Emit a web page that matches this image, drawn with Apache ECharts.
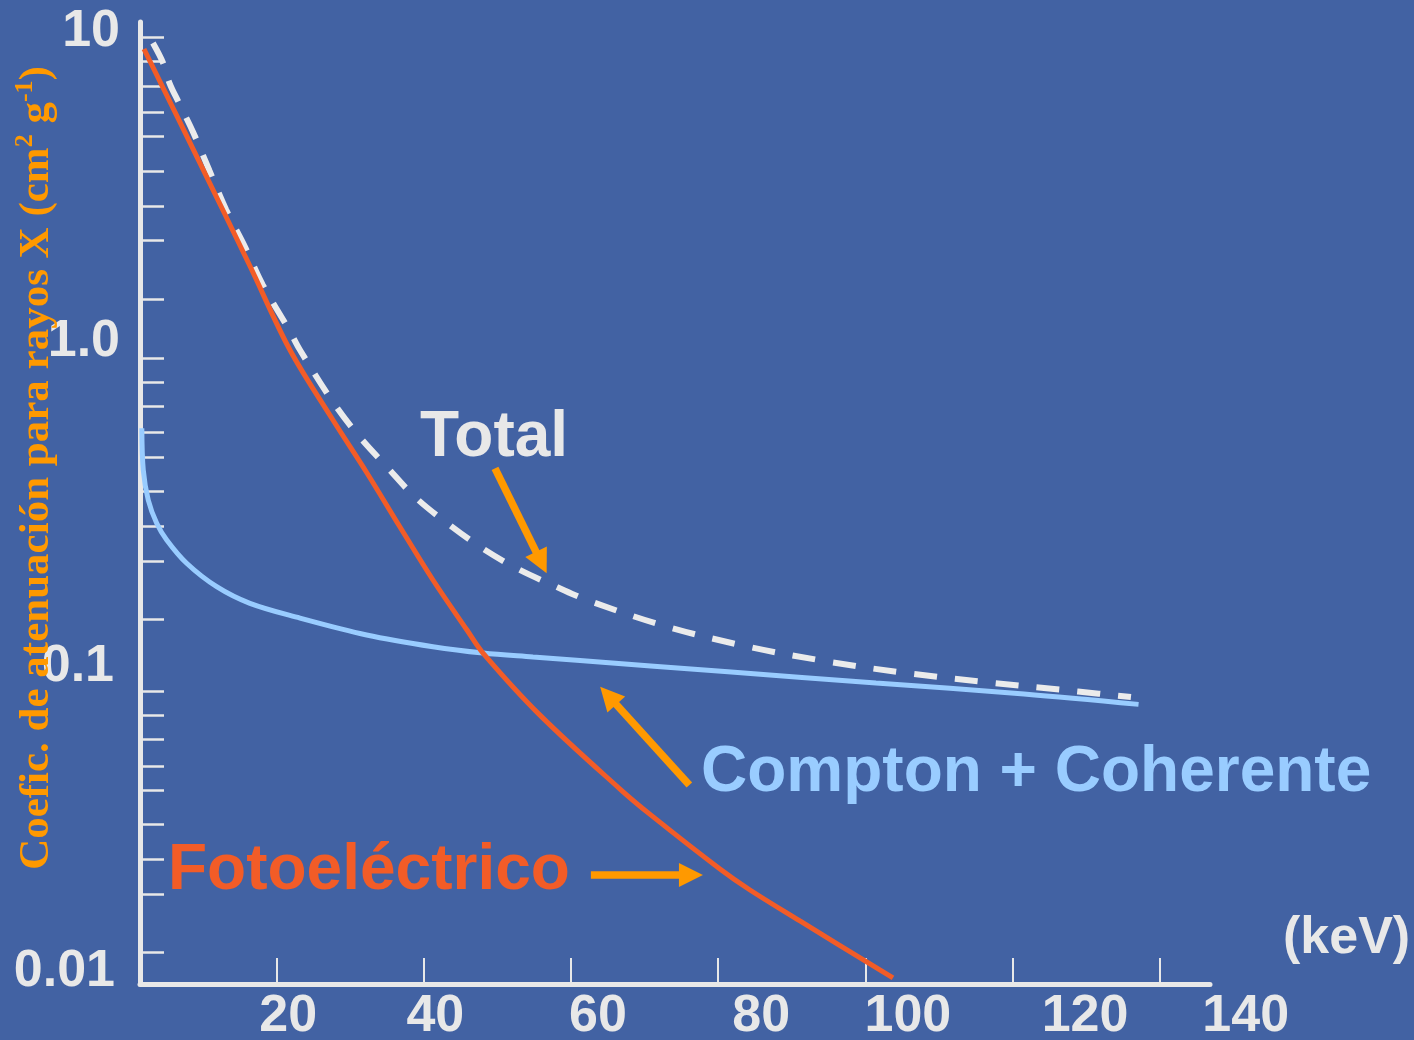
<!DOCTYPE html>
<html>
<head>
<meta charset="utf-8">
<script src="https://cdn.jsdelivr.net/npm/echarts@6/dist/echarts.min.js"></script>
<style>
html,body{margin:0;padding:0;background:#4262a3;}
#c{width:1414px;height:1040px;}
</style>
</head>
<body>
<div id="c"></div>
<script>
// ---- data (energy in keV, attenuation coefficient in cm2/g) ----
const fotoX = [1.97, 9.58, 16.37, 21.81, 27.65, 32.27, 36.76, 41.24, 45.86, 48.04, 55.78, 66.66, 70.87, 80.24, 84.32, 91.11, 103.75];
const fotoY = [9.21, 4.006, 1.889, 1.023, 0.6138, 0.4169, 0.2811, 0.1909, 0.1325, 0.1120, 0.0712, 0.0415, 0.0343, 0.02315, 0.01986, 0.01584, 0.01045];

const comptonX = [1.68, 1.875, 2.55, 3.70, 5.06, 7.77, 11.85, 16.37, 23.17, 32.23, 41.24, 48.04, 54.83, 61.22, 81.33, 101.44, 121.56, 137.12];
const comptonY = [0.5777, 0.4261, 0.3423, 0.2888, 0.2557, 0.2157, 0.1818, 0.1610, 0.1446, 0.1278, 0.1173, 0.1120, 0.1088, 0.1060, 0.0977, 0.0900, 0.0831, 0.0770];

const totalX = [3.19, 4.59, 5.44, 6.73, 8.62, 10.89, 13.15, 15.69, 18.13, 21.70, 23.17, 27.65, 31.05, 34.99, 38.80, 43.14, 47.90, 52.79, 58.09, 62.17, 72.49, 83.64, 94.85, 106.13, 117.48, 128.89, 136.09];
const totalY = [9.62, 8.295, 7.183, 6.208, 5.035, 3.779, 2.843, 2.175, 1.644, 1.184, 1.023, 0.700, 0.5503, 0.4355, 0.3499, 0.2894, 0.2411, 0.2068, 0.1814, 0.1650, 0.1370, 0.1179, 0.1053, 0.0964, 0.0900, 0.0846, 0.0812];

// ---- axes: ticks and labels ----
const xTickValues = [20, 40, 60, 80, 100, 120, 140];
const xTickLabels = ['20', '40', '60', '80', '100', '120', '140'];
const yTickValues = [10, 8.393, 7.028, 5.783, 4.855, 3.765, 2.927, 2.272, 1.481,
                     0.965, 0.810, 0.680, 0.5596, 0.4694, 0.3647, 0.2831, 0.2197, 0.1433,
                     0.0846, 0.0711, 0.0597, 0.0491, 0.0412, 0.0320, 0.02485, 0.01929, 0.01257];
const yLabelValues = [10, 1, 0.1, 0.01];
const yLabelTexts = ['10', '1.0', '0.1', '0.01'];

// ---- annotation arrows (data coordinates: [keV, coefficient]) ----
const arrowTotalFrom = [49.67, 0.4314];
const arrowTotalTo = [56.69, 0.2004];
const arrowComptonFrom = [76.08, 0.04273];
const arrowComptonTo = [63.96, 0.08759];
const arrowFotoFrom = [62.70, 0.02215];
const arrowFotoTo = [77.93, 0.02215];

// ---- styles ----
const TXT = '#E8E8E8', ORANGE = '#FF9900', RED = '#F25C27', BLUE = '#99CCFF', WHITE = '#EBEBEB';
const SANS = '"Liberation Sans", Arial, Helvetica, sans-serif';
const SERIF = '"Liberation Serif", "Times New Roman", serif';
const xLabelShift = [23, 23, 54, 86, 85, 145, 172];       // left padding per x label
const yLabelPad = [[0, 0, 13, 0], [0, 0, 22, 0], [0, 6, 4, 0], [0, 5, 24, 0]];

const zip = (xs, ys) => xs.map((x, i) => [x, ys[i]]);

const xRich = {};
xLabelShift.forEach((s, i) => {
  xRich['p' + i] = {padding: [0, 0, 0, s], fontSize: 52, fontWeight: 'bold', fontFamily: SANS, color: TXT};
});
const yRich = {};
yLabelPad.forEach((p, i) => {
  yRich['q' + i] = {padding: p, fontSize: 52, fontWeight: 'bold', fontFamily: SANS, color: TXT};
});

const chart = echarts.init(document.getElementById('c'), null, {renderer: 'canvas'});

const option = {
  backgroundColor: '#4262a3',
  animation: false,
  grid: {left: 140, right: 204, top: 22, bottom: 56, containLabel: false, outerBoundsMode: 'none'},
  xAxis: {
    type: 'value', min: 1.43, max: 146.83,
    splitLine: {show: false},
    axisLine: {show: true, onZero: false, lineStyle: {color: TXT, width: 5}},
    axisTick: {show: true, inside: true, length: 26, lineStyle: {color: TXT, width: 2}, customValues: xTickValues},
    axisLabel: {
      show: true, customValues: xTickValues, margin: 33, verticalAlign: 'middle',
      formatter: function (v) {
        let i = xTickValues.indexOf(Math.round(v));
        if (i < 0) return '';
        return '{p' + i + '|' + xTickLabels[i] + '}';
      },
      rich: xRich
    }
  },
  yAxis: {
    type: 'log', logBase: 10, min: 0.01, max: 11.216,
    splitLine: {show: false},
    minorTick: {show: false},
    axisLine: {show: true, onZero: false, lineStyle: {color: TXT, width: 5}},
    axisTick: {show: true, inside: true, length: 24, lineStyle: {color: TXT, width: 2.5}, customValues: yTickValues},
    axisLabel: {
      show: true, customValues: yLabelValues, margin: 20,
      formatter: function (v) {
        let best = -1, bd = 1e9;
        yLabelValues.forEach((lv, i) => {
          const d = Math.abs(Math.log10(v) - Math.log10(lv));
          if (d < bd) { bd = d; best = i; }
        });
        if (best < 0 || bd > 1e-3) return '';
        return '{q' + best + '|' + yLabelTexts[best] + '}';
      },
      rich: yRich
    }
  },
  series: [
    {
      name: 'Compton + Coherente', type: 'line', data: zip(comptonX, comptonY),
      showSymbol: false, smooth: 0.35, silent: true, z: 2,
      lineStyle: {color: BLUE, width: 5}
    },
    {
      name: 'Total', type: 'line', data: zip(totalX, totalY),
      showSymbol: false, smooth: 0.35, silent: true, z: 3,
      lineStyle: {color: WHITE, width: 6, type: [23, 18], cap: 'butt'}
    },
    {
      name: 'Fotoeléctrico', type: 'line', data: zip(fotoX, fotoY),
      showSymbol: false, smooth: 0.35, silent: true, z: 4,
      lineStyle: {color: RED, width: 5}
    }
  ]
};
chart.setOption(option);

// ---- annotations ----
function arrow(from, to, id) {
  const p0 = chart.convertToPixel({gridIndex: 0}, from);
  const p1 = chart.convertToPixel({gridIndex: 0}, to);
  const dx = p1[0] - p0[0], dy = p1[1] - p0[1];
  const L = Math.hypot(dx, dy), ux = dx / L, uy = dy / L;
  const HL = 24, HW = 12;
  const bx = p1[0] - ux * HL, by = p1[1] - uy * HL;
  return [
    {type: 'line', id: id + 'l', z: 20, silent: true,
     shape: {x1: p0[0], y1: p0[1], x2: bx + ux * 2, y2: by + uy * 2},
     style: {stroke: ORANGE, lineWidth: 7.5}},
    {type: 'polygon', id: id + 'h', z: 20, silent: true,
     shape: {points: [[p1[0], p1[1]], [bx - uy * HW, by + ux * HW], [bx + uy * HW, by - ux * HW]]},
     style: {fill: ORANGE}}
  ];
}

const graphics = [
  {type: 'text', id: 'ytitle', x: 37, y: 468, rotation: Math.PI / 2, z: 10, silent: true,
   style: {
     text: '{a|Coefic. de atenuación para rayos X (cm}{s|2}{a| g}{s|-1}{a|)}',
     align: 'center', verticalAlign: 'middle',
     rich: {
       a: {fontSize: 43, fontWeight: 'bold', fontFamily: SERIF, fill: ORANGE, color: ORANGE, lineHeight: 50},
       s: {fontSize: 26, fontWeight: 'bold', fontFamily: SERIF, fill: ORANGE, color: ORANGE, verticalAlign: 'top', lineHeight: 26}
     }
   }},
  {type: 'text', id: 'tTotal', x: 420, y: 438, z: 10, silent: true,
   style: {text: 'Total', fill: TXT, fontSize: 64, fontWeight: 'bold', fontFamily: SANS, align: 'left', verticalAlign: 'middle'}},
  {type: 'text', id: 'tCompton', x: 701, y: 773, z: 10, silent: true,
   style: {text: 'Compton + Coherente', fill: BLUE, fontSize: 64, fontWeight: 'bold', fontFamily: SANS, align: 'left', verticalAlign: 'middle'}},
  {type: 'text', id: 'tFoto', x: 168, y: 871, z: 10, silent: true,
   style: {text: 'Fotoeléctrico', fill: RED, fontSize: 64, fontWeight: 'bold', fontFamily: SANS, align: 'left', verticalAlign: 'middle'}},
  {type: 'text', id: 'tkev', x: 1283, y: 939, z: 10, silent: true,
   style: {text: '(keV)', fill: TXT, fontSize: 52, fontWeight: 'bold', fontFamily: SANS, align: 'left', verticalAlign: 'middle'}}
].concat(
  arrow(arrowTotalFrom, arrowTotalTo, 'aT'),
  arrow(arrowComptonFrom, arrowComptonTo, 'aC'),
  arrow(arrowFotoFrom, arrowFotoTo, 'aF')
);
chart.setOption({graphic: graphics});
</script>
</body>
</html>
